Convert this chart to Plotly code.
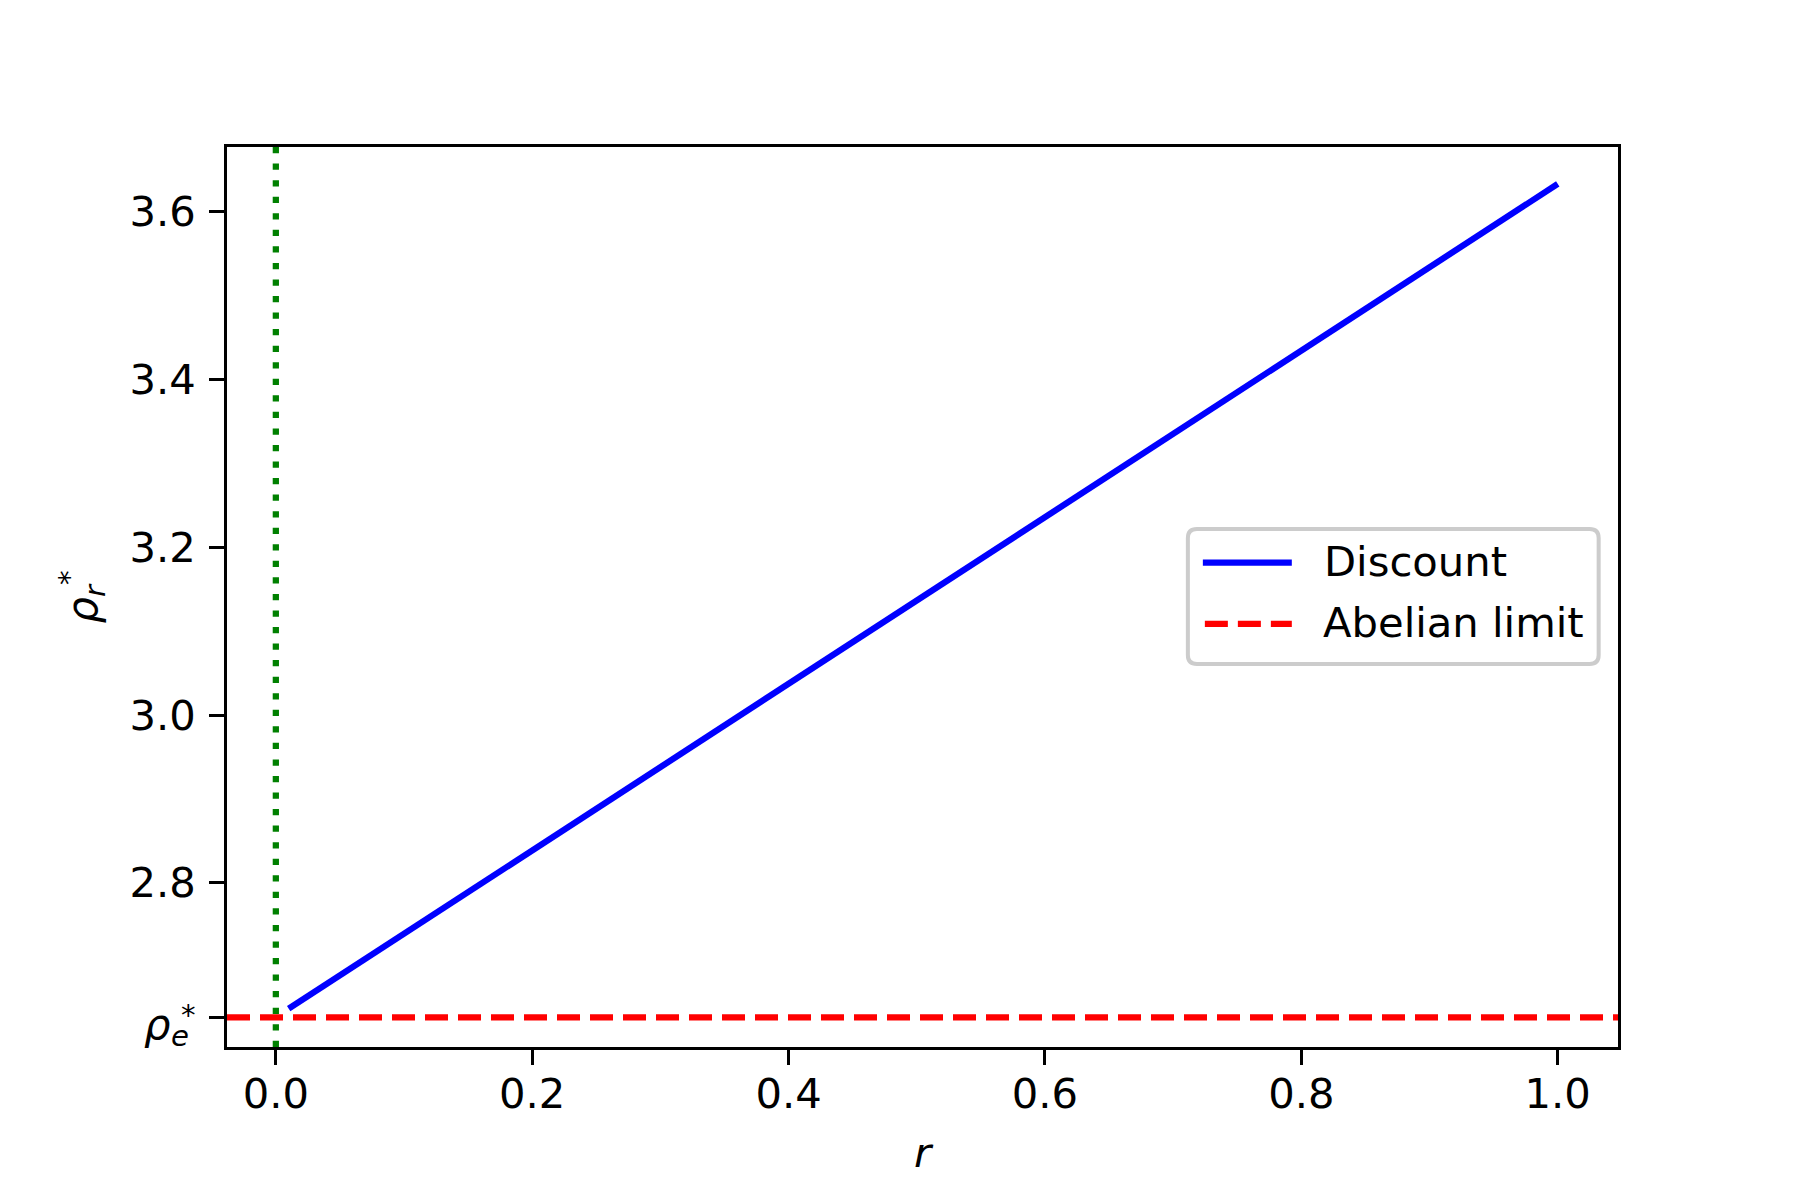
import plotly.graph_objects as go

# ---- data ----
r_vals = [0.01, 0.214, 0.4, 0.6, 1.0]
rho_vals = [2.650, 2.853, 3.038, 3.236, 3.633]
rho_e = 2.6396
r_marker = 0.0

x_tick_vals = [0.0, 0.2, 0.4, 0.6, 0.8, 1.0]
x_tick_text = ["0.0", "0.2", "0.4", "0.6", "0.8", "1.0"]
y_tick_vals = [rho_e, 2.8, 3.0, 3.2, 3.4, 3.6]
y_tick_text = ["", "2.8", "3.0", "3.2", "3.4", "3.6"]   # rho_e* label drawn below as stacked math
x_range = [-0.0381, 1.0470]
y_range = [2.6044, 3.6770]

series_names = ["Discount", "Abelian limit"]

FONT = "DejaVu Sans"
FS = 41.7
FS_SUB = 29.2
W, H = 1800, 1200
OFF = 8      # page body margin
HALF = 1.65  # half of the frame line width (plotly draws axis lines outside)
IL, IR, IT, IB = 225 + HALF, 1620 - HALF, 145 + HALF, 1049 - HALF
PW, PH = IR - IL, IB - IT
ML, MT = IL - OFF, IT - OFF
MR, MB = W - ML - PW, H - MT - PH


def px(x):
    return (x - IL) / PW


def py(y):
    return (IB - y) / PH


fig = go.Figure()
fig.add_trace(go.Scatter(x=r_vals, y=rho_vals, mode="lines", name=series_names[0],
                         line=dict(color="#0000ff", width=6.25), showlegend=False,
                         hoverinfo="skip"))

fig.add_vline(x=r_marker, line=dict(color="#008000", width=6.25, dash="6.25px,10.3px"))
fig.add_hline(y=rho_e, line=dict(color="#ff0000", width=6.25, dash="23px,10px"))

# ---- legend (matplotlib-style box) ----
x0, x1 = px(1188), px(1599)
y0, y1 = py(664), py(529)
rx, ry = 9 / PW, 9 / PH
path = (f"M{x0+rx},{y0} L{x1-rx},{y0} Q{x1},{y0} {x1},{y0+ry} L{x1},{y1-ry} "
        f"Q{x1},{y1} {x1-rx},{y1} L{x0+rx},{y1} Q{x0},{y1} {x0},{y1-ry} "
        f"L{x0},{y0+ry} Q{x0},{y0} {x0+rx},{y0} Z")
fig.add_shape(type="path", path=path, xref="paper", yref="paper",
              line=dict(color="#cccccc", width=4), fillcolor="rgba(255,255,255,0.8)",
              layer="above")
fig.add_shape(type="line", xref="paper", yref="paper", x0=px(1203), x1=px(1292),
              y0=py(562.5), y1=py(562.5), line=dict(color="#0000ff", width=6.25), layer="above")
fig.add_shape(type="line", xref="paper", yref="paper", x0=px(1205), x1=px(1292),
              y0=py(624), y1=py(624), line=dict(color="#ff0000", width=6.25, dash="23px,10px"),
              layer="above")
fig.add_annotation(x=px(1322), y=py(561), xref="paper", yref="paper", text=series_names[0],
                   showarrow=False, xanchor="left", yanchor="middle",
                   font=dict(family=FONT, size=FS, color="black"))
fig.add_annotation(x=px(1321), y=py(623), xref="paper", yref="paper", text=series_names[1],
                   showarrow=False, xanchor="left", yanchor="middle",
                   font=dict(family=FONT, size=FS, color="black"))

# ---- stacked rho_e^* tick label ----
fig.add_annotation(x=px(157.5), y=py(1025), xref="paper", yref="paper", text="<i>ρ</i>",
                   showarrow=False, xanchor="center", yanchor="middle",
                   font=dict(family=FONT, size=FS, color="black"))
fig.add_annotation(x=px(180), y=py(1036.5), xref="paper", yref="paper", text="<i>e</i>",
                   showarrow=False, xanchor="center", yanchor="middle",
                   font=dict(family=FONT, size=FS_SUB, color="black"))
fig.add_annotation(x=px(188.5), y=py(1015.5), xref="paper", yref="paper", text="*",
                   showarrow=False, xanchor="center", yanchor="middle",
                   font=dict(family=FONT, size=FS_SUB, color="black"))

axis_common = dict(showline=True, linecolor="black", linewidth=3.3, mirror=True,
                   ticks="outside", ticklen=14.6, tickwidth=3.3, tickcolor="black",
                   showgrid=False, zeroline=False,
                   tickfont=dict(family=FONT, size=FS, color="black"))

fig.update_layout(
    width=W, height=H,
    margin=dict(l=ML, r=MR, t=MT, b=MB),
    paper_bgcolor="white", plot_bgcolor="white",
    font=dict(family=FONT, size=FS, color="black"),
    xaxis=dict(range=x_range, tickvals=x_tick_vals, ticktext=x_tick_text,
               ticklabelstandoff=-7,
               title=dict(text="<i>r</i>", font=dict(family=FONT, size=FS), standoff=22),
               **axis_common),
    yaxis=dict(range=y_range, tickvals=y_tick_vals, ticktext=y_tick_text,
               ticklabelstandoff=5,
               title=dict(text="<i>ρ</i><sub><i>r</i></sub><sup>*</sup>",
                          font=dict(family=FONT, size=FS), standoff=20),
               **axis_common),
)

fig.write_html("out.html")
